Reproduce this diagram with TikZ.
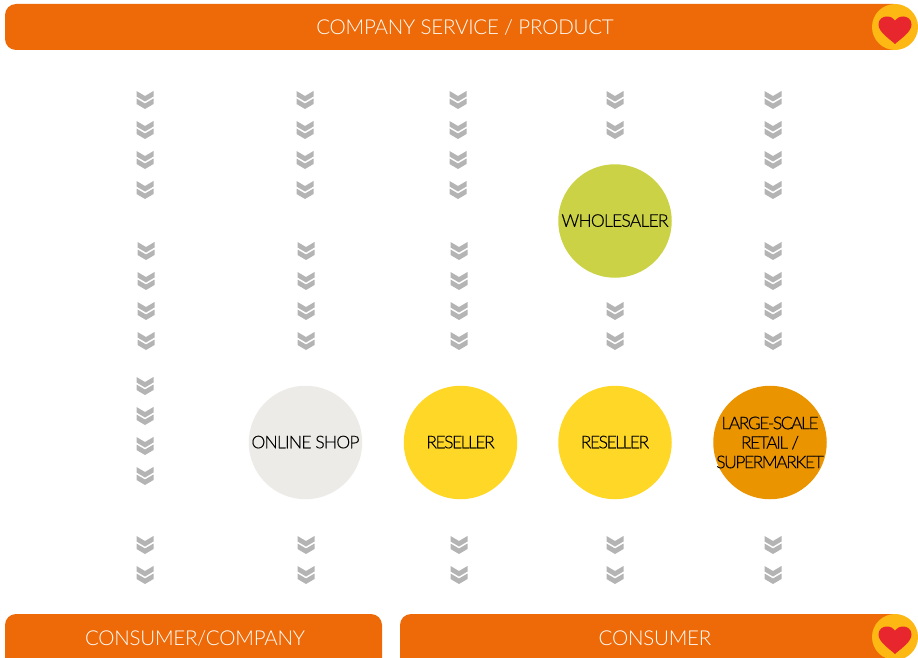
\documentclass[tikz,border=0pt]{standalone}
\usepackage{fontspec}
\setmainfont{Lato Light}
\newfontfamily\hubfont{Lato Light}[FakeBold=0.4]
\definecolor{barorange}{HTML}{EE6A08}
\definecolor{heartring}{HTML}{FDB813}
\definecolor{heartred}{HTML}{E8262E}
\definecolor{chev}{HTML}{B4B4B4}
\definecolor{wsgreen}{HTML}{CBD246}
\definecolor{shopgrey}{HTML}{ECEBE7}
\definecolor{resyellow}{HTML}{FFD726}
\definecolor{retailorange}{HTML}{EA9400}
\newcommand{\zline}[1]{\makebox[0pt][c]{#1}}
\tikzset{
  x=1pt,y=-1pt,
  barbox/.style={fill=barorange,rounded corners=11pt},
  bartext/.style={text=white,font=\fontsize{20.5}{24}\selectfont\addfontfeature{LetterSpace=-1.1},inner sep=0pt},
  hub/.style={circle,minimum size=113.5pt,inner sep=0pt,align=center,text=black,
    font=\hubfont\fontsize{17.5}{19.5}\selectfont\addfontfeature{LetterSpace=-4.5}},
  hubtight/.style={hub,font=\hubfont\fontsize{17.5}{19.5}\selectfont\addfontfeature{LetterSpace=-8.5}},
  ringdot/.style={circle,fill=heartring,minimum size=46pt,inner sep=0pt},
  pics/chevpair/.style={code={
    \fill[chev] (-8.5,-9) -- (0,-4) -- (8.5,-9) -- (8.5,-3.5) -- (0,1.5) -- (-8.5,-3.5) -- cycle;
    \fill[chev] (-8.5,-1.5) -- (0,3.5) -- (8.5,-1.5) -- (8.5,4) -- (0,9) -- (-8.5,4) -- cycle;
  }},
  pics/heartglyph/.style={code={
    \fill[heartred] (0,15) .. controls (-6,9.5) and (-16.5,3) .. (-16.5,-4.5)
      .. controls (-16.5,-10) and (-12,-12.5) .. (-8.5,-12.5)
      .. controls (-4.5,-12.5) and (-1.5,-11) .. (0,-8.5)
      .. controls (1.5,-11) and (4.5,-12.5) .. (8.5,-12.5)
      .. controls (12,-12.5) and (16.5,-10) .. (16.5,-4.5)
      .. controls (16.5,3) and (6,9.5) .. (0,15) -- cycle;
  }},
}
\begin{document}
\begin{tikzpicture}
\useasboundingbox (0,0) rectangle (918,658);
\clip (0,0) rectangle (918,658);
% bars
\fill[barbox] (5,4) rectangle (905,50);
\fill[barbox] (5,614) rectangle (382,672);
\fill[barbox] (400,614) rectangle (905,672);
\node[bartext] (top) at (465,27) {COMPANY SERVICE / PRODUCT};
\node[bartext] (consumerco) at (195,638) {CONSUMER/COMPANY};
\node[bartext] (consumer) at (655,638) {CONSUMER};
% heart badges
\node[ringdot] (badgetop) at (895,27) {};
\pic at (895,29) {heartglyph};
\node[ringdot] (badgebottom) at (895,637) {};
\pic at (895,639) {heartglyph};
% circles
\node[hub,fill=wsgreen] (wholesaler) at (615,221) {\raisebox{1pt}{WHOLESALER}};
\node[hub,fill=shopgrey] (online) at (305.5,442.5) {\raisebox{1pt}{ONLINE SHOP}};
\node[hubtight,fill=resyellow] (reseller1) at (460.5,442.5) {\raisebox{1pt}{RESELLER}};
\node[hubtight,fill=resyellow] (reseller2) at (615,442.5) {\raisebox{1pt}{RESELLER}};
\node[hubtight,fill=retailorange] (retail) at (770,442.5) {\zline{LARGE-SCALE}\\\zline{RETAIL /}\\\zline{SUPERMARKET}};
% chevrons
\foreach \px/\py in {
  145/100,145/130,145/160,145/190,146/251,146/281,146/311,146/341,
  145/386,145/416,145/446,145/476,145/545,145/575,
  305/100,305/130,305/160,305/190,306/251,306/281,306/311,306/341,306/545,306/575,
  458/100,458/130,458/160,458/190,459/251,459/281,459/311,459/341,459/545,459/575,
  615/100,615/130,615/311,615/341,615/545,615/575,
  773/100,773/130,773/160,773/190,773/251,773/281,773/311,773/341,773/545,773/575}
  {\pic at (\px,\py) {chevpair};}
\end{tikzpicture}
\end{document}
